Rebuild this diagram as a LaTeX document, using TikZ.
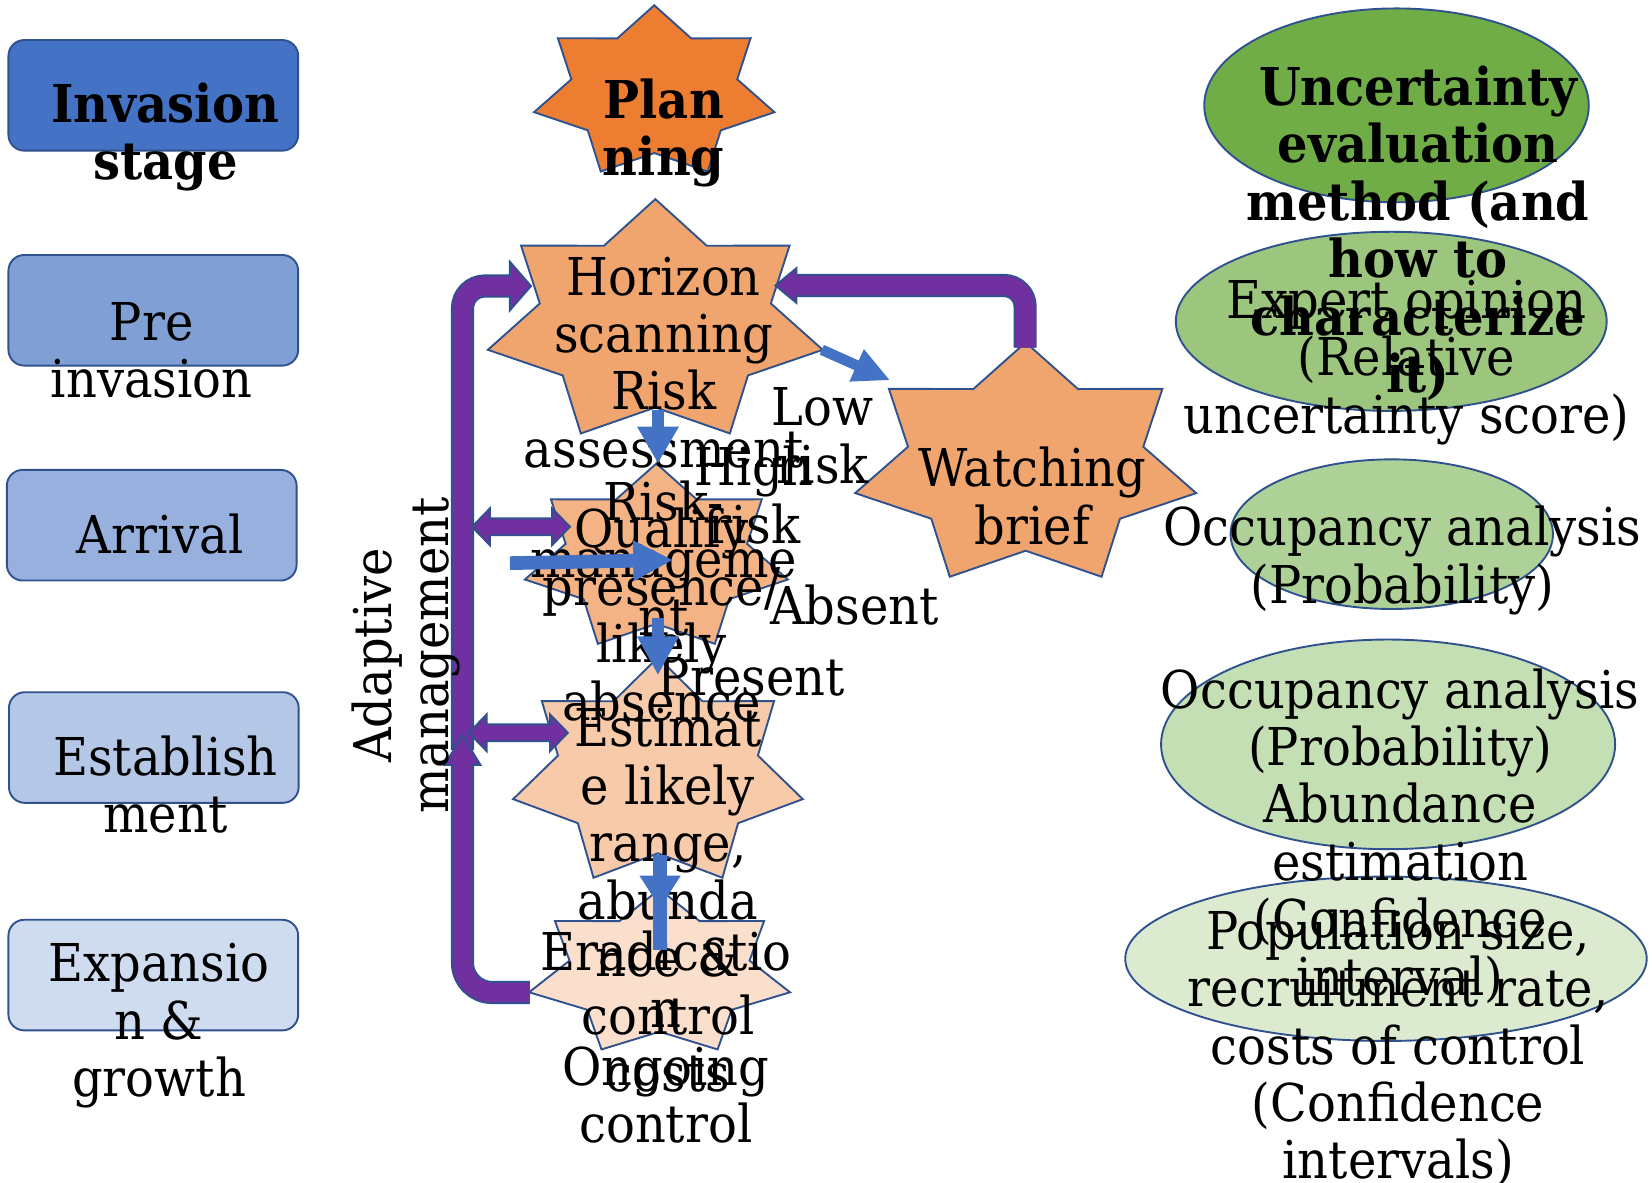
\documentclass[tikz,border=0pt]{standalone}
\usepackage{fontspec}
\setmainfont{DejaVu Serif}[FakeStretch=0.92]
\usetikzlibrary{arrows.meta,calc,shapes.geometric}
\definecolor{bord}{HTML}{2F528F}
\definecolor{purp}{HTML}{7030A0}
\definecolor{barr}{HTML}{4472C4}
\definecolor{stA}{HTML}{4472C4}
\definecolor{stB}{HTML}{7F9FD5}
\definecolor{stC}{HTML}{97B0DE}
\definecolor{stD}{HTML}{B4C7E7}
\definecolor{stE}{HTML}{CFDBEF}
\definecolor{orA}{HTML}{ED7D31}
\definecolor{orB}{HTML}{F0A46E}
\definecolor{orC}{HTML}{F4B384}
\definecolor{orD}{HTML}{F7CAA9}
\definecolor{orE}{HTML}{FADFCC}
\definecolor{grA}{HTML}{70AD47}
\definecolor{grB}{HTML}{9CC67E}
\definecolor{grC}{HTML}{AED197}
\definecolor{grD}{HTML}{C5DFB4}
\definecolor{grE}{HTML}{DCEAD0}
\tikzset{
  txt/.style={align=center, anchor=base, inner sep=0pt, font=\fontsize{49.5}{54.5}\selectfont},
  btxt/.style={txt, font=\fontsize{49.5}{54.5}\selectfont\bfseries},
  stagebox/.style={draw=bord, line width=1.8pt, rounded corners=15pt, minimum width=275pt, minimum height=105pt, inner sep=0pt},
  ellbox/.style={ellipse, draw=bord, line width=1.8pt, inner sep=0pt},
  pout/.style={draw=bord, line width=22pt},
  pin/.style={draw=purp, line width=18.4pt},
  phead/.style={fill=purp, draw=bord, line width=1.8pt, line join=miter},
  bline/.style={draw=barr},
}
\newcommand\sevstar[6]{%
  \coordinate (#1) at (#2,#3);
  \filldraw[draw=bord, line width=1.8pt, fill=#6, line join=miter]
    (#2,{#3-#5}) \foreach \k in {1,...,13}{
      -- ({#2+(0.845+0.155*cos(\k*180))*#4*cos(90+\k*180/7)},{#3-(0.845+0.155*cos(\k*180))*#5*sin(90+\k*180/7)})
    } -- cycle;
}
\newcommand\dblarr[4]{% name, y, left tip, right tip
  \coordinate (#1) at ({(#3+#4)/2},#2);
  \filldraw[phead] (#3,#2) -- ({#3+17},{#2-17.5}) -- ({#3+17},{#2-8}) -- ({#4-17},{#2-8}) -- ({#4-17},{#2-17.5})
    -- (#4,#2) -- ({#4-17},{#2+17.5}) -- ({#4-17},{#2+8}) -- ({#3+17},{#2+8}) -- ({#3+17},{#2+17.5}) -- cycle;
}
\begin{document}
\begin{tikzpicture}[x=1pt,y=-1pt]
\useasboundingbox (0,0) rectangle (1568,1122);

% stage boxes
\node[stagebox, fill=stA] (sb1) at (145.5,90.5) {};
\node[stagebox, fill=stB] (sb2) at (145.5,294.5) {};
\node[stagebox, fill=stC] (sb3) at (144,498.5) {};
\node[stagebox, fill=stD] (sb4) at (146,709.5) {};
\node[stagebox, fill=stE] (sb5) at (145.5,925.5) {};

% ellipses
\node[ellbox, fill=grA, minimum width=365pt, minimum height=184pt] (el1) at (1325.5,100) {};
\node[ellbox, fill=grB, minimum width=409pt, minimum height=170pt] (el2) at (1320.5,305) {};
\node[ellbox, fill=grC, minimum width=306pt, minimum height=142pt] (el3) at (1321,507) {};
\node[ellbox, fill=grD, minimum width=431pt, minimum height=199pt] (el4) at (1317.5,706.5) {};
\node[ellbox, fill=grE, minimum width=495pt, minimum height=156pt] (el5) at (1315.5,910) {};

% stars
\sevstar{plan}{621}{88}{117}{83}{orA}
\sevstar{hscan}{622}{306}{163}{117}{orB}
\sevstar{watch}{973.5}{442}{166}{117}{orB}
\sevstar{qual}{623}{530}{128}{90}{orC}
\sevstar{estim}{624.5}{734}{141}{110}{orD}
\sevstar{erad}{626}{924}{127}{80}{orE}

% connector end points
\coordinate (am-top) at (439,712);
\coordinate (hs-w) at (504,271.5);
\coordinate (er-w) at (503,942);
\coordinate (am-mid) at (439,698);
\coordinate (wb-n) at (973,330);
\coordinate (hs-e) at (736,271);

% purple loop: adaptive management -> horizon scanning
\draw[pout, rounded corners=21pt] (am-top) |- ($(hs-w)+(-18,0)$);
\filldraw[phead] ($(hs-w)+(-20,-23)$) -- (hs-w) -- ($(hs-w)+(-20,23)$) -- cycle;
\draw[pin, rounded corners=21pt] (am-top) |- ($(hs-w)+(-16,0)$);

% purple: eradication -> adaptive management
\draw[pout, rounded corners=28pt] (er-w) -| ($(am-mid)+(0,28)$);
\filldraw[phead] ($(am-mid)+(-17,28)$) -- (am-mid) -- ($(am-mid)+(17,28)$) -- cycle;
\draw[pin, rounded corners=28pt] (er-w) -| ($(am-mid)+(0,26)$);

% purple: watching brief -> horizon scanning
\draw[pout, rounded corners=20pt] (wb-n) |- ($(hs-e)+(18,0)$);
\filldraw[phead] ($(hs-e)+(20,-16.5)$) -- (hs-e) -- ($(hs-e)+(20,16.5)$) -- cycle;
\draw[pin, rounded corners=20pt] (wb-n) |- ($(hs-e)+(16,0)$);

% double arrows
\dblarr{dq}{500}{448}{541}
\dblarr{de}{695.5}{445}{539}

% texts (anchor = baseline of the last line)
\node[btxt] (t1) at (157,170.5) {Invasion\\stage};
\node[txt] (t2) at (144,377.5) {Pre\\invasion};
\node[txt] (t3) at (152,525) {Arrival};
\node[txt] (t4) at (157,790.5) {Establish\\ment};
\node[txt] (t5) at (151,1041) {Expansio\\n \&\\growth};
\node[btxt] (t6) at (630,166.5) {Plan\\ning};
\node[txt] (t7) at (630,443.5) {Horizon\\scanning\\Risk\\assessment};
\node[txt] (t8) at (630,603) {Risk-\\manageme\\nt};
\node[txt] (t9) at (628,683.5) {Qualify\\presence/\\likely\\absence};
\node[txt] (t10) at (634,1036) {Estimat\\e likely\\range,\\abunda\\nce \&\\control\\costs};
\node[txt] (t11) at (632,1084.5) {Eradicatio\\n\\Ongoing\\control};
\node[txt] (t12) at (980,516.5) {Watching\\brief};
\node[txt] (t13) at (781,458.5) {Low\\risk};
\node[txt] (t14) at (716,515.5) {High\\risk};
\node[txt] (t15) at (811,593) {Absent};
\node[txt] (t16) at (713,660) {Present};
\node[txt, rotate=90] (t17) at (426,622) {Adaptive\\management};
\node[btxt] (t18) at (1346,372.5) {Uncertainty\\evaluation\\method (and\\how to\\characterize\\it)};
\node[txt] (t19) at (1335,411) {Expert opinion\\(Relative\\uncertainty score)};
\node[txt] (t20) at (1331,572.5) {Occupancy analysis\\(Probability)};
\node[txt] (t21) at (1329,944.5) {Occupancy analysis\\(Probability)\\Abundance\\estimation\\(Confidence\\interval)};
\node[txt] (t22) at (1327,1119) {Population size,\\recruitment rate,\\costs of control\\(Confidence\\intervals)};

% blue arrows
\coordinate (hs-s) at (624.5,389);
\coordinate (qu-n) at (624.5,440);
\coordinate (qu-s) at (624.5,587);
\coordinate (es-n) at (624.5,641);
\coordinate (es-s) at (626.5,811.5);
\coordinate (er-n) at (626.5,862);
\coordinate (er-in) at (626.5,902);
\coordinate (hs-se) at (780,332);
\coordinate (wb-nw) at (845,361);
\coordinate (rm-w) at (484,534.5);
\coordinate (qu-c) at (639,531.5);
\draw[bline, line width=12pt, -{Triangle[length=35pt,width=37pt]}] (hs-s) -- (qu-n);
\draw[bline, line width=12pt, -{Triangle[length=37pt,width=37pt]}] (qu-s) -- (es-n);
\draw[bline, line width=13pt] (es-s) -- (er-in);
\draw[bline, line width=13pt, -{Triangle[length=31pt,width=37pt]}] (es-s) -- (er-n);
\draw[bline, line width=10pt, -{Triangle[length=35pt,width=31pt]}] (hs-se) -- (wb-nw);
\draw[bline, line width=13pt, -{Triangle[length=38pt,width=36pt]}] (rm-w) -- (qu-c);
\end{tikzpicture}
\end{document}
